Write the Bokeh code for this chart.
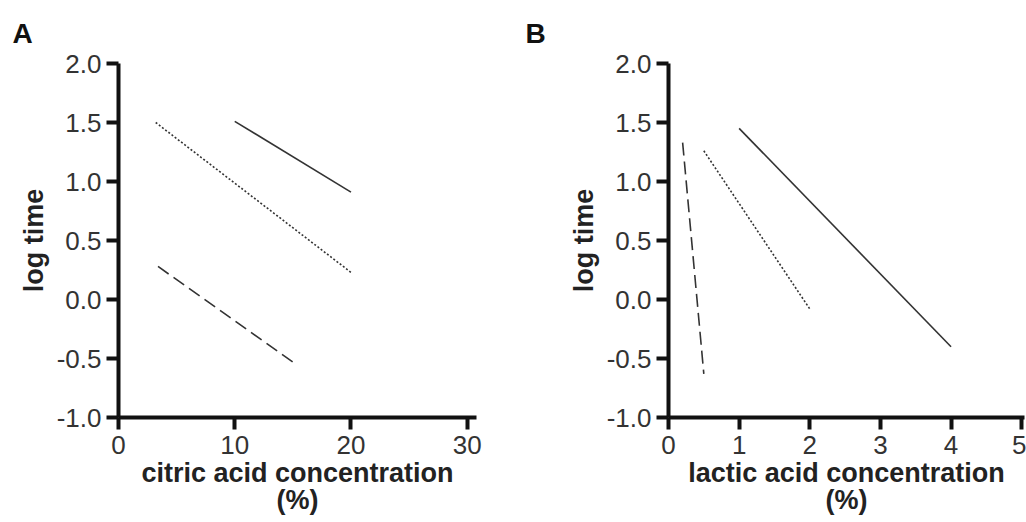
from bokeh.plotting import figure
from bokeh.layouts import row
from bokeh.models import Range1d, FixedTicker, PrintfTickFormatter
from bokeh.embed import file_html
from bokeh.resources import INLINE

# ---- data ----
y_ticks = [-1.0, -0.5, 0.0, 0.5, 1.0, 1.5, 2.0]

# Panel A: citric acid
citric_ticks = [0, 10, 20, 30]
citric_solid_x = [10, 20]
citric_solid_y = [1.51, 0.91]
citric_dotted_x = [3.2, 20]
citric_dotted_y = [1.50, 0.23]
citric_dashed_x = [3.4, 15]
citric_dashed_y = [0.28, -0.53]

# Panel B: lactic acid
lactic_ticks = [0, 1, 2, 3, 4, 5]
lactic_solid_x = [1.0, 4.0]
lactic_solid_y = [1.45, -0.40]
lactic_dotted_x = [0.5, 2.0]
lactic_dotted_y = [1.26, -0.08]
lactic_dashed_x = [0.2, 0.5]
lactic_dashed_y = [1.33, -0.63]

FONT = "Liberation Sans"
INK = "#222222"
LINE = "#333333"


def make_panel(letter, xlabel, xticks, xend, series, width, border_left, border_right, border_bottom):
    p = figure(width=width, height=522, output_backend="svg", toolbar_location=None,
               x_range=Range1d(0, xend), y_range=Range1d(-1.0, 2.0),
               min_border_left=border_left, min_border_right=border_right,
               min_border_top=63, min_border_bottom=border_bottom,
               background_fill_color="white", border_fill_color="white")
    p.outline_line_color = None
    p.grid.visible = False

    p.title.text = letter
    p.title.text_font = FONT
    p.title.text_font_size = "28px"
    p.title.text_font_style = "bold"
    p.title.text_color = "#111111"
    p.title.align = "left"
    p.title.offset = -(border_left - 12)
    p.title.standoff = 29

    for ax in (p.xaxis[0], p.yaxis[0]):
        ax.axis_line_width = 4
        ax.axis_line_color = "#111111"
        ax.major_tick_line_width = 4
        ax.major_tick_line_color = "#111111"
        ax.major_tick_out = 12
        ax.major_tick_in = 0
        ax.minor_tick_line_color = None
        ax.major_label_text_font = FONT
        ax.major_label_text_font_size = "26px"
        ax.major_label_text_color = "#333333"
        ax.axis_label_text_font = FONT
        ax.axis_label_text_font_style = "bold"
        ax.axis_label_text_color = INK

    p.xaxis.ticker = FixedTicker(ticks=xticks)
    p.xaxis.major_label_standoff = 6
    p.xaxis.axis_label = xlabel
    p.xaxis.axis_label_text_font_size = "27px"
    p.xaxis.axis_label_text_line_height = 0.9
    p.xaxis.axis_label_standoff = 1

    p.yaxis.ticker = FixedTicker(ticks=y_ticks)
    p.yaxis.formatter = PrintfTickFormatter(format="%.1f")
    p.yaxis.major_label_standoff = 5
    p.yaxis.axis_label = "log time"
    p.yaxis.axis_label_text_font_size = "27px"
    p.yaxis.axis_label_standoff = 5

    for xs, ys, dash in series:
        p.line(xs, ys, line_color=LINE, line_width=1.6, line_dash=dash)
    return p


pA = make_panel("A", "citric acid concentration\n(%)", citric_ticks, 30.8,
                [(citric_solid_x, citric_solid_y, "solid"),
                 (citric_dotted_x, citric_dotted_y, "2 2"),
                 (citric_dashed_x, citric_dashed_y, "13 6")],
                width=513, border_left=118, border_right=37, border_bottom=105)

pB = make_panel("B", "lactic acid concentration\n(%)", lactic_ticks, 5.04,
                [(lactic_solid_x, lactic_solid_y, "solid"),
                 (lactic_dotted_x, lactic_dotted_y, "2 2"),
                 (lactic_dashed_x, lactic_dashed_y, "13 6")],
                width=513, border_left=155, border_right=2, border_bottom=105)

layout = row(pA, pB)
open("out.html", "w").write(file_html(layout, INLINE))
